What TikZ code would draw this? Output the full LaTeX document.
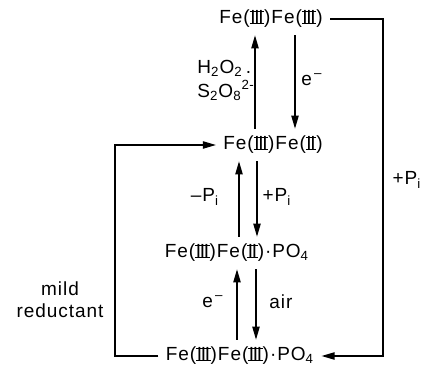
\documentclass[tikz,border=0pt]{standalone}
\usepackage{fontspec}
\setmainfont{Liberation Sans}[LetterSpace=5]
\usepackage{tikz}
\usetikzlibrary{arrows.meta}
\newcommand{\rn}[1]{\setbox0=\hbox{\kern.3pt\addfontfeatures{LetterSpace=-7}#1\kern.3pt}%
  \hbox{\rlap{\rule{\wd0}{.6pt}}\rlap{\rule[\dimexpr\ht0-.6pt]{\wd0}{.6pt}}\box0}}

\begin{document}
\begin{tikzpicture}[x=0.5pt, y=-0.5pt, font=\fontsize{9.5}{11}\selectfont, line width=0.75pt,
  rxn/.style={-{Triangle[length=6.5pt,width=3.6pt]}}]
  \useasboundingbox (0,0) rectangle (422,367);
  \node (top)  at (271,19)  {Fe(\rn{III})Fe(\rn{III})};
  \node (mid)  at (273,145) {Fe(\rn{III})Fe(\rn{II})};
  \node (pmid) at (237,253) {Fe(\rn{III})Fe(\rn{II})·PO\textsubscript{4}};
  \node (pbot) at (240,356) {Fe(\rn{III})Fe(\rn{III})·PO\textsubscript{4}};
  \foreach \n/\x in {c1/255,c2/295,c3/239,c4/257,c5/237,c6/256,cr/383,cl/115}
    \coordinate (\n) at (\x,0);
  \draw[rxn] (mid.north -| c1) -- (top.south -| c1);
  \draw[rxn] (top.south -| c2) -- (mid.north -| c2);
  \draw[rxn] (pmid.north -| c3) -- (mid.south -| c3);
  \draw[rxn] (mid.south -| c4) -- (pmid.north -| c4);
  \draw[rxn] (pbot.north -| c5) -- (pmid.south -| c5);
  \draw[rxn] (pmid.south -| c6) -- (pbot.north -| c6);
  \draw[rxn] (top.east) -- (top.east -| cr) -- (pbot.east -| cr) -- (pbot.east);
  \draw[rxn] (pbot.west) -- (pbot.west -| cl) -- (mid.west -| cl) -- (mid.west);
  \node[anchor=west, align=left, font=\fontsize{9.5}{11}\selectfont\addfontfeatures{LetterSpace=2}]
    (ox) at (190,80)
    {H\textsubscript{2}O\textsubscript{2}\,.\\[1pt]S\textsubscript{2}O\textsubscript{8}\textsuperscript{2-}};
  \node (e1) at (312,80) {e\textsuperscript{\,–}};
  \node (mp) at (205,197) {–P\textsubscript{i}};
  \node (pp) at (277,197) {+P\textsubscript{i}};
  \node (e2) at (213,302) {e\textsuperscript{\,–}};
  \node (air) at (281,302) {air};
  \node (pr) at (407,180) {+P\textsubscript{i}};
  \node[align=center] (red) at (60,300) {mild\\reductant};
\end{tikzpicture}
\end{document}
